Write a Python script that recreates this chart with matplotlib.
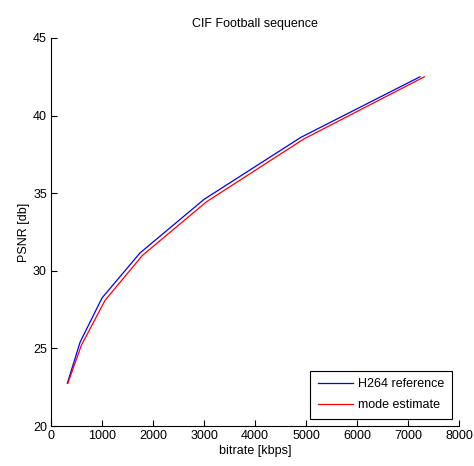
import matplotlib.pyplot as plt

# rate-distortion points
h264_bitrate = [320, 570, 1000, 1745, 3000, 4900, 7235]
h264_psnr = [22.75, 25.4, 28.25, 31.15, 34.6, 38.6, 42.5]
est_bitrate = [330, 595, 1060, 1795, 3050, 4960, 7320]
est_psnr = [22.75, 25.2, 28.1, 31.0, 34.45, 38.5, 42.5]

plt.rcParams['font.family'] = ['Liberation Sans', 'DejaVu Sans']
plt.rcParams['font.size'] = 9

fig = plt.figure(figsize=(4.74, 4.66), dpi=100)
ax = fig.add_axes([0.1076, 0.0858, 0.8608, 0.8327])

ax.plot(h264_bitrate, h264_psnr, color='#0000ff', lw=0.9, label='H264 reference')
ax.plot(est_bitrate, est_psnr, color='#ff0000', lw=0.9, label='mode estimate')

ax.set_xlim(0, 8000)
ax.set_ylim(20, 45)
ax.set_xticks(range(0, 8001, 1000))
ax.set_yticks(range(20, 46, 5))
ax.spines['top'].set_visible(False)
ax.spines['right'].set_visible(False)
ax.tick_params(direction='in', length=4, width=0.8, pad=3)

ax.set_title('CIF Football sequence', fontsize=9, pad=8)
ax.set_xlabel('bitrate [kbps]', labelpad=2)
ax.set_ylabel('PSNR [db]', labelpad=2)

leg = ax.legend(loc='lower right', fancybox=False, edgecolor='black', framealpha=1,
                borderpad=0.6, handlelength=2.8, handletextpad=0.4,
                labelspacing=0.7, borderaxespad=0.6)
leg.get_frame().set_linewidth(0.8)

fig.savefig('out.png', dpi=100)
